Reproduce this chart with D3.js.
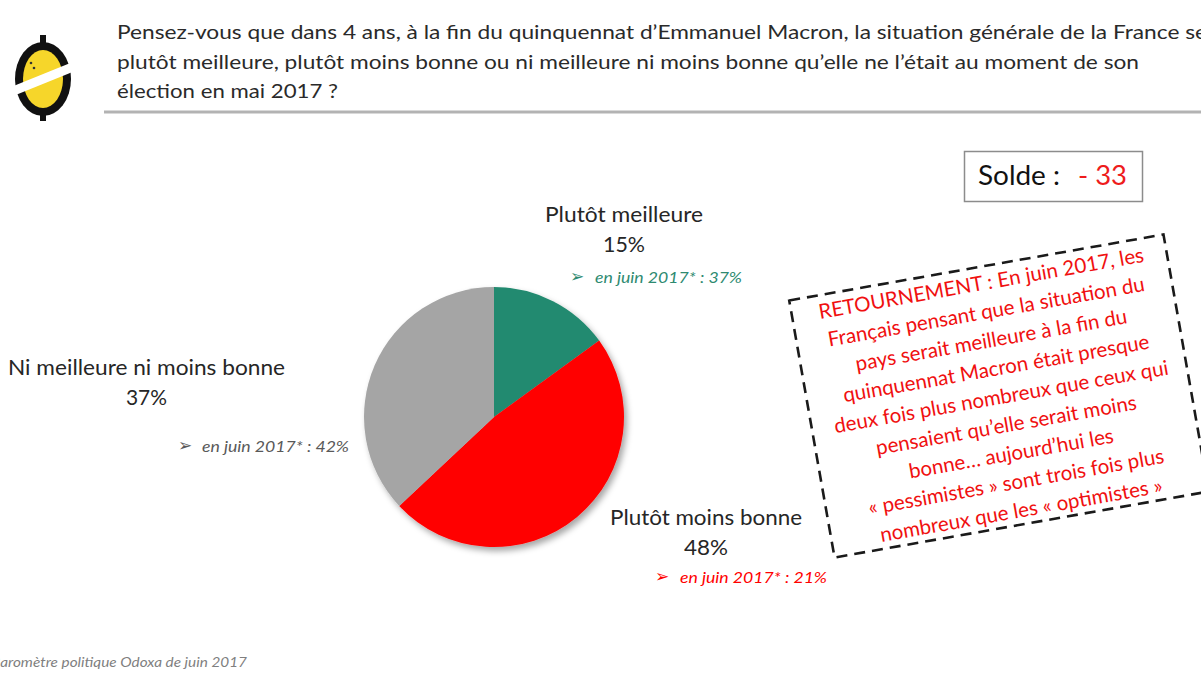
<!DOCTYPE html>
<html><head><meta charset="utf-8">
<script src="https://cdn.jsdelivr.net/npm/d3@7"></script>
<style>body{margin:0;background:#fff;overflow:hidden} svg{display:block}</style>
</head><body><svg id="c" width="1201" height="676"></svg>
<script>
const categories = ["Plutôt meilleure", "Plutôt moins bonne", "Ni meilleure ni moins bonne"];
const values = [15, 48, 37];
const juin2017 = [37, 21, 42];
const sliceColors = ["#238a6f", "#ff0000", "#a5a5a5"];
const noteColors = ["#2e8a70", "#ff0000", "#595959"];
const titleLines = [
  "Pensez-vous que dans 4 ans, à la fin du quinquennat d’Emmanuel Macron, la situation générale de la France se",
  "plutôt meilleure, plutôt moins bonne ou ni meilleure ni moins bonne qu’elle ne l’était au moment de son",
  "élection en mai 2017 ?"
];
const boxLines = [
  "RETOURNEMENT : En juin 2017, les",
  "Français pensant que la situation du",
  "pays serait meilleure à la fin du",
  "quinquennat Macron était presque",
  "deux fois plus nombreux que ceux qui",
  "pensaient qu’elle serait moins",
  "bonne… aujourd’hui les",
  "« pessimistes » sont trois fois plus",
  "nombreux que les « optimistes »"
];
const soldeLabel = "Solde :";
const soldeValue = "- 33";
const source = "Baromètre politique Odoxa de juin 2017";

const FONT = "Lato, 'Open Sans', sans-serif";
const svg = d3.select("#c");

// filter for pie shadow
const defs = svg.append("defs");
const f = defs.append("filter").attr("id", "sh").attr("x", "-20%").attr("y", "-20%").attr("width", "140%").attr("height", "140%");
f.append("feDropShadow").attr("dx", 3).attr("dy", 4).attr("stdDeviation", 3).attr("flood-color", "#000").attr("flood-opacity", 0.35);

// logo
const logo = svg.append("g").attr("transform", "translate(43,79)");
logo.append("rect").attr("x", -3).attr("y", -44).attr("width", 6).attr("height", 10).attr("fill", "#111");
logo.append("rect").attr("x", -3).attr("y", 32).attr("width", 6).attr("height", 10).attr("fill", "#111");
logo.append("ellipse").attr("rx", 28).attr("ry", 37).attr("fill", "#111");
logo.append("ellipse").attr("rx", 20).attr("ry", 29).attr("fill", "#f6d62a");
logo.append("circle").attr("cx", -12).attr("cy", -16).attr("r", 1.3).attr("fill", "#333");
logo.append("circle").attr("cx", -9).attr("cy", -11).attr("r", 1.3).attr("fill", "#333");
logo.append("rect").attr("x", -34).attr("y", -4.5).attr("width", 68).attr("height", 9).attr("fill", "#fff")
  .attr("transform", "rotate(-22)");

// title
const titleW = [1090, 1022, 221];
svg.selectAll("text.title").data(titleLines).join("text").attr("class", "title")
  .attr("x", 117).attr("y", (d, i) => 39 + i * 29.5)
  .attr("font-family", FONT).attr("font-size", 20).attr("fill", "#2a2a2a")
  .attr("textLength", (d, i) => titleW[i]).attr("lengthAdjust", "spacingAndGlyphs")
  .text(d => d);
svg.append("rect").attr("x", 104).attr("y", 110.5).attr("width", 1097).attr("height", 3).attr("fill", "#b3b3b3");

// pie
const cx = 494, cy = 417, R = 130;
const pie = d3.pie().sort(null).value(d => d)(values);
const arc = d3.arc().innerRadius(0).outerRadius(R);
svg.append("g").attr("transform", `translate(${cx},${cy})`).attr("filter", "url(#sh)")
  .selectAll("path").data(pie).join("path")
  .attr("d", arc).attr("fill", (d, i) => sliceColors[i]);

// labels
const labelPos = [
  {cx: 624, y: 222, w: 158, pw: 42, ax: 577, nx: 595, ny: 283},
  {cx: 706, y: 525, w: 192, pw: 44, ax: 662, nx: 680, ny: 583},
  {cx: 146.5, y: 375, w: 277, pw: 41, ax: 185, nx: 202, ny: 452}
];
categories.forEach((c, i) => {
  const p = labelPos[i];
  svg.append("text").attr("x", p.cx).attr("y", p.y).attr("text-anchor", "middle")
    .attr("font-family", FONT).attr("font-size", 21).attr("fill", "#262626")
    .attr("textLength", p.w).attr("lengthAdjust", "spacingAndGlyphs").text(c);
  svg.append("text").attr("x", p.cx).attr("y", p.y + 30).attr("text-anchor", "middle")
    .attr("font-family", FONT).attr("font-size", 21).attr("fill", "#262626")
    .attr("textLength", p.pw).attr("lengthAdjust", "spacingAndGlyphs").text(values[i] + "%");
  svg.append("text").attr("x", p.ax).attr("y", p.ny - 1).attr("text-anchor", "middle")
    .attr("font-family", "'DejaVu Sans', sans-serif").attr("font-size", 17).attr("fill", noteColors[i]).text("➢");
  svg.append("text").attr("x", p.nx).attr("y", p.ny)
    .attr("font-family", FONT).attr("font-style", "italic").attr("font-size", 16).attr("fill", noteColors[i])
    .attr("textLength", 147).attr("lengthAdjust", "spacingAndGlyphs")
    .text(`en juin 2017* : ${juin2017[i]}%`);
});

// solde box
svg.append("rect").attr("x", 964.5).attr("y", 151.5).attr("width", 178).attr("height", 50)
  .attr("fill", "#fff").attr("stroke", "#8c8c8c").attr("stroke-width", 1.5);
svg.append("text").attr("x", 978).attr("y", 185).attr("font-family", FONT).attr("font-size", 27).attr("fill", "#111")
  .attr("textLength", 82).attr("lengthAdjust", "spacingAndGlyphs").text(soldeLabel);
svg.append("text").attr("x", 1078).attr("y", 185).attr("font-family", FONT).attr("font-size", 27).attr("fill", "#ee1c1c")
  .attr("textLength", 49).attr("lengthAdjust", "spacingAndGlyphs").text(soldeValue);

// dashed rotated box
const bx = svg.append("g").attr("transform", "translate(999,396) rotate(-10)");
bx.append("rect").attr("x", -190).attr("y", -130.5).attr("width", 380).attr("height", 261)
  .attr("fill", "none").attr("stroke", "#1a1a1a").attr("stroke-width", 2.6).attr("stroke-dasharray", "11,7");
bx.selectAll("text").data(boxLines).join("text")
  .attr("x", 2).attr("y", (d, i) => -107 + i * 28.8).attr("text-anchor", "middle")
  .attr("font-family", FONT).attr("font-size", 20.5).attr("fill", "#f01010").text(d => d);

// source (the reference crops its first letter at the left edge)
svg.append("text").attr("x", -9).attr("y", 667).attr("font-family", FONT).attr("font-style", "italic")
  .attr("font-size", 14).attr("fill", "#7f7f7f").attr("textLength", 256).attr("lengthAdjust", "spacingAndGlyphs")
  .text(source);
</script></body></html>
